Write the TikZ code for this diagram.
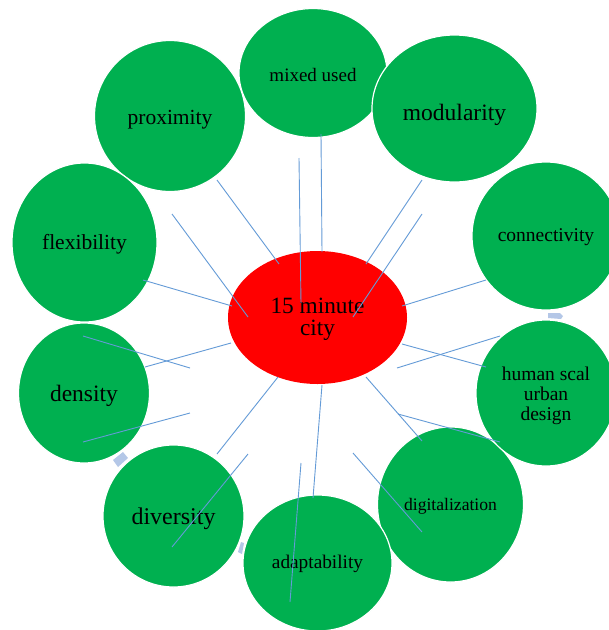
\documentclass[tikz,border=0pt]{standalone}
\usepackage{fontspec}
\setmainfont{Liberation Serif}
\usetikzlibrary{shapes.geometric}
\definecolor{leaf}{RGB}{0,176,80}
\definecolor{hub}{RGB}{255,0,0}
\definecolor{spoke}{RGB}{100,155,215}
\definecolor{notch}{RGB}{180,199,231}
\tikzset{
  bubble/.style 2 args={ellipse, fill=leaf, draw=white, line width=1.2pt,
    minimum width=#1, minimum height=#2, inner sep=0pt},
  tx/.style={align=center, inner sep=0pt, text=black},
  link/.style={draw=spoke, line width=0.9pt},
  gapmark/.style={fill=notch}
}
\newcommand{\fs}[1]{\fontsize{#1}{#1}\selectfont}
\begin{document}
\begin{tikzpicture}[x=1pt,y=-1pt]
\useasboundingbox (0,0) rectangle (609,630);
\fill[white] (0,0) rectangle (609,630);
\clip (0,0) rectangle (609,630);

% outer bubbles, each with its word set at the centre
\node[bubble={151pt}{151pt}, label={[tx, font=\fs{21.5}, yshift=-4pt]center:proximity}] (prox) at (170,116) {};
\node[bubble={148pt}{129pt}, label={[tx, font=\fs{19}, yshift=-2pt]center:mixed used}] (mix) at (313,73) {};
\node[bubble={165pt}{147pt}, label={[tx, font=\fs{23.5}, yshift=-6pt]center:modularity}] (mod) at (454.5,108.5) {};
\node[bubble={148pt}{148pt}, label={[tx, font=\fs{19.5}, yshift=-1pt]center:connectivity}] (conn) at (546,236) {};
\node[bubble={145pt}{159pt}, label={[tx, font=\fs{21.5}, yshift=-2pt]center:flexibility}] (flex) at (84.5,242.5) {};
\node[bubble={131pt}{140pt}, label={[tx, font=\fs{23.5}, yshift=-3pt]center:density}] (dens) at (84,393) {};
\node[bubble={141pt}{142pt}, label={[tx, font=\fs{24}, yshift=-3pt]center:diversity}] (div) at (173.5,516) {};
\node[bubble={146pt}{155pt}, label={[tx, font=\fs{17.6}, yshift=-2pt]center:digitalization}] (digi) at (450.5,504.5) {};
\node[bubble={140pt}{146pt}, label={[tx, font={\fontsize{19.5}{20}\selectfont}, yshift=-3pt]center:human scal\\urban\\design}] (hum) at (546,393) {};
\node[bubble={149pt}{136pt}, label={[tx, font=\fs{19.3}, yshift=-1pt]center:adaptability}] (adapt) at (317.5,563) {};

% centre
\node[ellipse, fill=hub, minimum width=179pt, minimum height=133pt, inner sep=0pt,
  label={[tx, font={\fontsize{23.3}{22.5}\selectfont}, yshift=-2pt]center:15 minute\\city}] (city) at (317.5,317.5) {};

% small marks in the gaps
\fill[gapmark] (548,313) -- (560,313) -- (563,316) -- (561,319) -- (548,318) -- cycle;
\fill[gapmark] (113,460) -- (123,452) -- (128,458) -- (118,467) -- cycle;
\fill[gapmark] (241,542) -- (244,543) -- (242,554) -- (238,552) -- cycle;

% spokes
\foreach \i/\ax/\ay/\bx/\by in {
  1/217/180/279/264, 2/172/214/248/317, 3/143/280/232/306,
  4/299/158/301/303, 5/321/134/322/252, 6/422/180/366/264,
  7/422/214/353/317, 8/486/280/402/306, 9/402/344/486/367,
  10/500/336/397/368, 11/366/377/422/441, 12/398/414/500/442,
  13/353/453/422/532, 14/322/385/313/498, 15/301/463/290/602,
  16/231/343/145/367, 17/83/336/190/368, 18/190/413/83/442,
  19/278/377/217/454, 20/248/454/172/547}{
  \coordinate (s\i) at (\ax,\ay);
  \coordinate (e\i) at (\bx,\by);
  \draw[link] (s\i) -- (e\i);
}
\end{tikzpicture}
\end{document}
